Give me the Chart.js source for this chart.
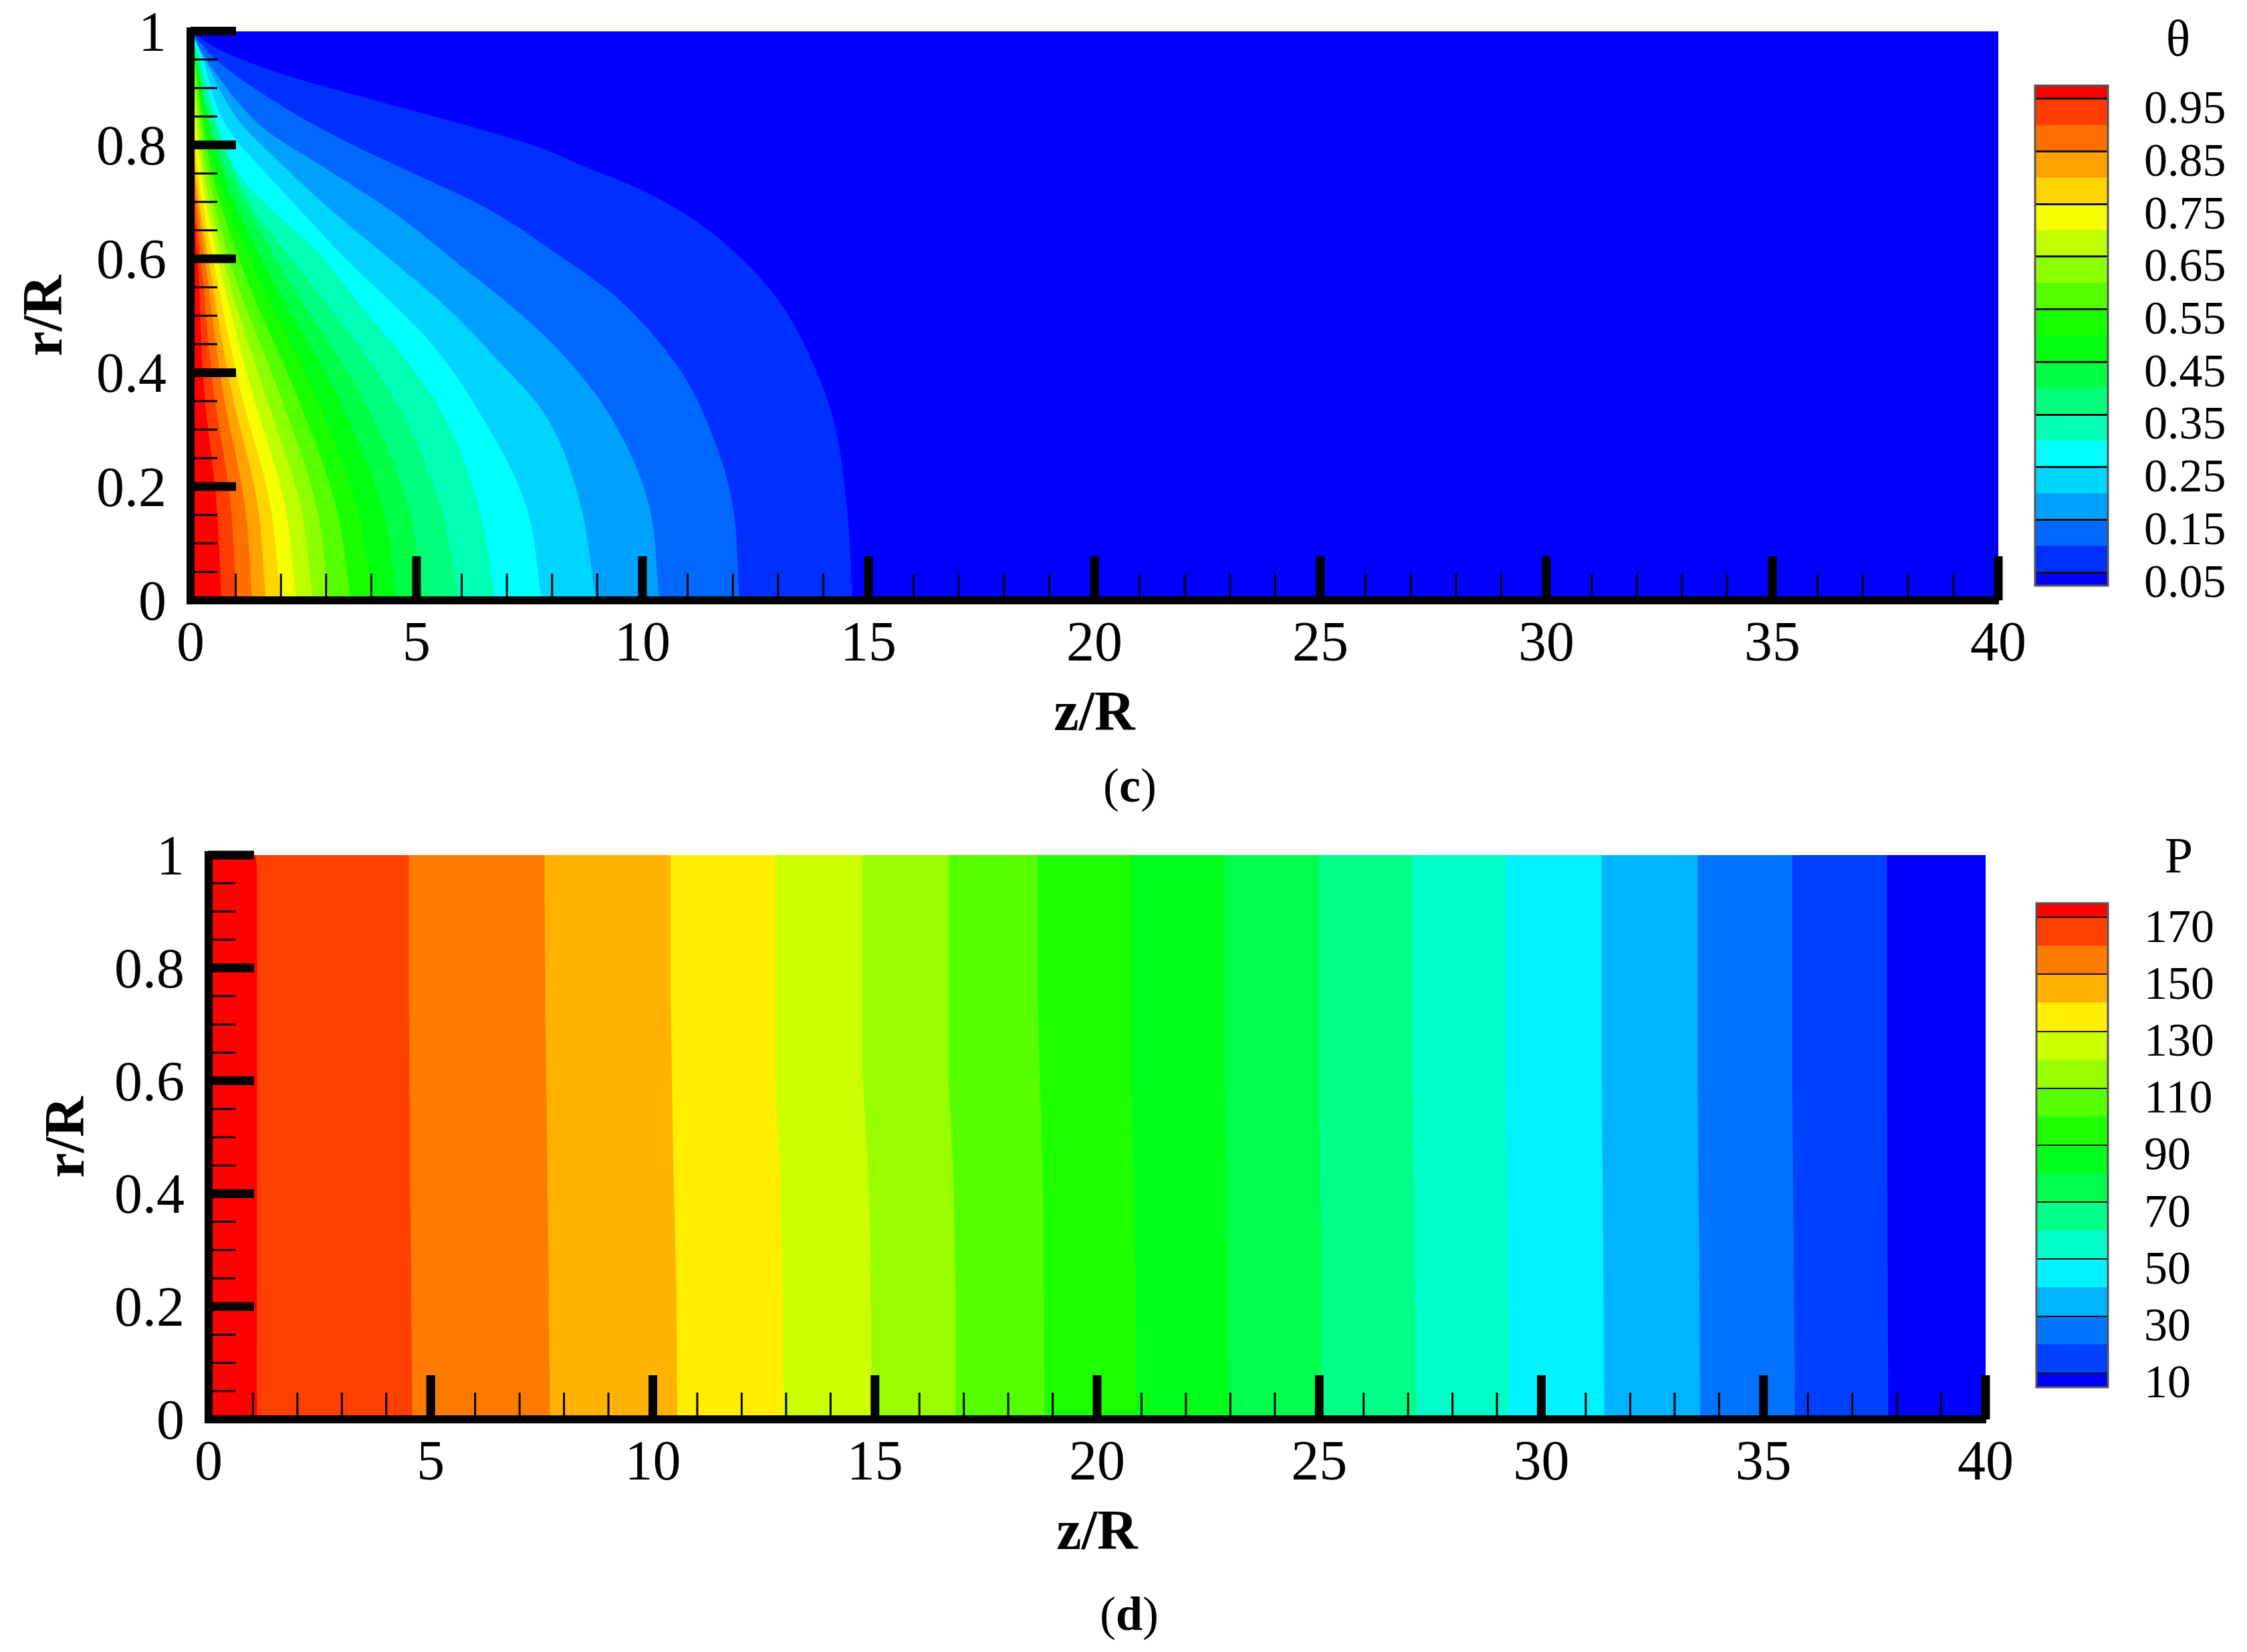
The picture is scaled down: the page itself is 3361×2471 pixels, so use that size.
<!DOCTYPE html>
<html>
<head>
<meta charset="utf-8">
<title>Contours</title>
<script src="https://cdn.jsdelivr.net/npm/chart.js@4"></script>
<style>
    html, body { margin: 0; padding: 0; background: #fff; }
    body { position: relative; width: 3361px; height: 2471px; overflow: hidden; font-family: "Liberation Serif", serif; color: #000; }
    canvas { position: absolute; }
    .label { position: absolute; transform: translate(-50%, -50%); line-height: 1; white-space: nowrap; }
</style>
</head>
<body>
<canvas id="thetaPlot" width="3040" height="1130" style="left:0;top:0"></canvas>
<canvas id="thetaBar" width="341" height="800" style="left:3020px;top:100px"></canvas>
<canvas id="pressurePlot" width="3040" height="1130" style="left:0;top:1230px"></canvas>
<canvas id="pressureBar" width="341" height="800" style="left:3020px;top:1323px"></canvas>
<div class="label" style="left:3258px;top:57px;font-size:76px">θ</div>
<div class="label" style="left:3259px;top:1279px;font-size:76px">P</div>
<div class="label" style="left:1690px;top:1175px;font-size:72px">(<b>c</b>)</div>
<div class="label" style="left:1689px;top:2414px;font-size:72px">(<b>d</b>)</div>
<script>
// Axis ticks
const majorZ = [5, 10, 15, 20, 25, 30, 35, 40];
const minorZ = [1, 2, 3, 4, 6, 7, 8, 9, 11, 12, 13, 14, 16, 17, 18, 19, 21, 22, 23, 24, 26, 27, 28, 29, 31, 32, 33, 34, 36, 37, 38, 39];
const majorR = [0.2, 0.4, 0.6, 0.8, 1];
const minorR = [0.05, 0.1, 0.15, 0.25, 0.3, 0.35, 0.45, 0.5, 0.55, 0.65, 0.7, 0.75, 0.85, 0.9, 0.95];

// Panel (c): legend
const thetaTicks = [0.05, 0.15, 0.25, 0.35, 0.45, 0.55, 0.65, 0.75, 0.85, 0.95];
const thetaEdges = [0.025, 0.05, 0.1, 0.15, 0.2, 0.25, 0.3, 0.35, 0.4, 0.45, 0.5, 0.55, 0.6, 0.65, 0.7, 0.75, 0.8, 0.85, 0.9, 0.95, 0.975];
const thetaColors = ['#0000ff', '#0030ff', '#0068ff', '#00a0ff', '#00d5ff', '#00ffff', '#00ffb5', '#00ff7c', '#00ff45', '#00ff10',
    '#1aff00', '#55ff00', '#8cff00', '#bfff00', '#f5ff00', '#ffd500', '#ffa200', '#ff6f00', '#ff3d00', '#ff0000'];

// Panel (c): contour lines as [z/R, r/R]
const thetaBase = [[0, 1], [40, 1]];
const theta05 = [[0, 1], [0.69, 0.965], [2.21, 0.92], [4.1, 0.878], [5.62, 0.845], [7.64, 0.798], [8.75, 0.761], [10, 0.72], [11.11, 0.67], [12.24, 0.597], [13.09, 0.518], [13.66, 0.436], [14.22, 0.319], [14.51, 0.174], [14.65, 0]];
const theta10 = [[0, 1], [0.62, 0.946], [1.83, 0.878], [3.34, 0.81], [4.8, 0.755], [6.68, 0.683], [8.19, 0.604], [9.51, 0.526], [10.73, 0.416], [11.4, 0.319], [11.98, 0.174], [12.15, 0]];
const theta15 = [[0, 1], [0.46, 0.937], [1.52, 0.836], [2.95, 0.761], [4.6, 0.675], [6.02, 0.585], [7.24, 0.507], [8.28, 0.428], [9.32, 0.319], [10.12, 0.174], [10.38, 0]];
const theta20 = [[0, 1], [0.31, 0.95], [1.0, 0.85], [1.96, 0.77], [3.19, 0.68], [4.51, 0.593], [5.73, 0.51], [6.68, 0.432], [7.9, 0.319], [8.61, 0.174], [8.97, 0]];
const theta25 = [[0, 1], [0.24, 0.958], [0.62, 0.86], [1.0, 0.81], [1.44, 0.77], [2.43, 0.685], [3.47, 0.597], [4.41, 0.526], [5.36, 0.448], [6.3, 0.342], [7.39, 0.174], [7.78, 0]];
const theta30 = [[0, 1], [0.16, 0.962], [0.46, 0.878], [0.75, 0.8], [1.15, 0.74], [1.96, 0.675], [2.9, 0.604], [3.85, 0.51], [4.79, 0.42], [5.64, 0.319], [6.35, 0.174], [6.76, 0]];
const theta35 = [[0, 1], [0.14, 0.962], [0.38, 0.878], [0.92, 0.761], [1.5, 0.675], [2.58, 0.565], [4.38, 0.37], [5.5, 0.174], [5.93, 0]];
const theta40 = [[0, 1], [0.3, 0.878], [0.78, 0.761], [2.15, 0.565], [3.7, 0.37], [4.79, 0.174], [5.14, 0]];
const theta45 = [[0, 1], [0.66, 0.761], [1.8, 0.565], [3.17, 0.37], [4.2, 0.174], [4.57, 0]];
const theta50 = [[0, 1], [0.55, 0.761], [1.52, 0.565], [2.7, 0.37], [3.66, 0.174], [4.04, 0]];
const theta55 = [[0, 1], [0.45, 0.761], [1.24, 0.565], [2.3, 0.37], [3.19, 0.174], [3.55, 0]];
const theta60 = [[0, 1], [0.36, 0.761], [1.0, 0.565], [1.94, 0.37], [2.76, 0.174], [3.07, 0]];
const theta65 = [[0, 1], [0.28, 0.761], [0.84, 0.565], [1.62, 0.37], [2.41, 0.174], [2.71, 0]];
const theta70 = [[0, 1], [0.22, 0.761], [0.71, 0.565], [1.35, 0.37], [2.07, 0.174], [2.34, 0]];
const theta75 = [[0, 1], [0.15, 0.761], [0.59, 0.565], [1.1, 0.37], [1.75, 0.174], [1.99, 0]];
const theta80 = [[0, 1], [0.1, 0.761], [0.47, 0.565], [0.9, 0.37], [1.47, 0.174], [1.67, 0]];
const theta85 = [[0, 1], [0.07, 0.761], [0.38, 0.565], [0.71, 0.37], [1.19, 0.174], [1.37, 0]];
const theta90 = [[0, 1], [0.05, 0.761], [0.27, 0.565], [0.51, 0.37], [0.88, 0.174], [1.01, 0]];
const theta95 = [[0, 1], [0.03, 0.761], [0.18, 0.565], [0.3, 0.37], [0.57, 0.174], [0.69, 0]];
const thetaContours = [thetaBase, theta05, theta10, theta15, theta20, theta25, theta30, theta35, theta40, theta45, theta50,
    theta55, theta60, theta65, theta70, theta75, theta80, theta85, theta90, theta95];

// Panel (d): legend
const pressureTicks = [10, 30, 50, 70, 90, 110, 130, 150, 170];
const pressureEdges = [5, 10, 20, 30, 40, 50, 60, 70, 80, 90, 100, 110, 120, 130, 140, 150, 160, 170, 175];
const pressureColors = ['#0000ff', '#0040ff', '#0073ff', '#00b3ff', '#00f2ff', '#00ffc8', '#00ff88', '#00ff4d', '#00ff1a',
    '#1eff00', '#55ff00', '#99ff00', '#ccff00', '#ffee00', '#ffb300', '#ff7b00', '#ff4000', '#ff0000'];

// Panel (d): contour lines as [z/R, r/R]
const pressureBase = [[0, 1], [40, 1]];
const p10 = [[0, 1], [37.78, 1], [37.78, 0.6], [37.81, 0]];
const p20 = [[0, 1], [35.65, 1], [35.65, 0.6], [35.71, 0]];
const p30 = [[0, 1], [33.52, 1], [33.52, 0.6], [33.56, 0.23], [33.58, 0]];
const p40 = [[0, 1], [31.36, 1], [31.36, 0.6], [31.4, 0.23], [31.42, 0]];
const p50 = [[0, 1], [29.2, 1], [29.2, 0.6], [29.26, 0.23], [29.29, 0]];
const p60 = [[0, 1], [27.1, 1], [27.1, 0.6], [27.16, 0.23], [27.19, 0]];
const p70 = [[0, 1], [24.98, 1], [24.98, 0.6], [25.03, 0.42], [25.05, 0.23], [25.07, 0]];
const p80 = [[0, 1], [22.87, 1], [22.87, 0.6], [22.93, 0.42], [22.95, 0.23], [22.96, 0]];
const p90 = [[0, 1], [20.75, 1], [20.75, 0.6], [20.83, 0.42], [20.87, 0.23], [20.89, 0]];
const p100 = [[0, 1], [18.66, 1], [18.66, 0.75], [18.78, 0.42], [18.8, 0.23], [18.82, 0]];
const p110 = [[0, 1], [16.66, 1], [16.66, 0.6], [16.77, 0.42], [16.81, 0.23], [16.81, 0]];
const p120 = [[0, 1], [14.73, 1], [14.73, 0.6], [14.86, 0.42], [14.91, 0.23], [14.93, 0]];
const p130 = [[0, 1], [12.75, 1], [12.75, 0.6], [12.87, 0.42], [12.92, 0.23], [12.94, 0]];
const p140 = [[0, 1], [10.4, 1], [10.4, 0.75], [10.47, 0.42], [10.53, 0.23], [10.55, 0]];
const p150 = [[0, 1], [7.56, 1], [7.58, 0.75], [7.63, 0.4], [7.69, 0]];
const p160 = [[0, 1], [4.51, 1], [4.51, 0.75], [4.54, 0.4], [4.59, 0]];
const p170 = [[0, 1], [1.06, 1], [1.1, 0.97], [0.99, 0.9], [1.0, 0.6], [1.04, 0.45], [1.06, 0.2], [1.09, 0]];
const pressureContours = [pressureBase, p10, p20, p30, p40, p50, p60, p70, p80, p90, p100, p110, p120, p130, p140, p150, p160, p170];

const serif = "'Liberation Serif', serif";

// Scales must not push the chart area around, its edges are fixed per panel
const fixScaleBox = (scale, key, size) => {
    scale[key] = size;
    scale.paddingLeft = 0;
    scale.paddingRight = 0;
    scale.paddingTop = 0;
    scale.paddingBottom = 0;
};

// Tecplot style inward ticks, placed through the chart's own scales
const inwardTicks = {
    id: 'inwardTicks',
    afterDatasetsDraw(chart) {
        const { ctx, chartArea, scales } = chart;
        const drawX = (values, length, width) => {
            ctx.lineWidth = width;
            values.forEach(v => {
                const x = scales.x.getPixelForValue(v);
                ctx.beginPath();
                ctx.moveTo(x, chartArea.bottom);
                ctx.lineTo(x, chartArea.bottom - length);
                ctx.stroke();
            });
        };
        const drawY = (values, length, width) => {
            ctx.lineWidth = width;
            values.forEach(v => {
                const y = scales.y.getPixelForValue(v);
                ctx.beginPath();
                ctx.moveTo(chartArea.left, y);
                ctx.lineTo(chartArea.left + length, y);
                ctx.stroke();
            });
        };
        ctx.save();
        ctx.strokeStyle = '#000';
        drawX(minorZ, 40, 3);
        drawY(minorR, 40, 3);
        drawX(majorZ, 66, 13);
        drawY(majorR, 68, 13);
        ctx.restore();
    }
};

// Grey frame round the legend bar
const barFrame = {
    id: 'barFrame',
    afterDraw(chart) {
        const { ctx, chartArea } = chart;
        ctx.save();
        ctx.strokeStyle = '#555';
        ctx.lineWidth = 3;
        ctx.strokeRect(chartArea.left, chartArea.top, chartArea.width, chartArea.height);
        ctx.restore();
    }
};

const createContourPlot = (id, contours, colors, area) => {
    // highest level first: Chart.js paints dataset 0 last, so it lands on top
    const datasets = contours.map((line, i) => ({
        data: line.map(p => ({ x: p[0], y: p[1] })),
        showLine: true,
        fill: 'origin',
        backgroundColor: colors[i],
        borderWidth: 0,
        pointRadius: 0,
        tension: i === 0 ? 0 : area.tension
    })).reverse();

    return new Chart(document.getElementById(id), {
        type: 'scatter',
        data: { datasets },
        plugins: [inwardTicks],
        options: {
            responsive: false,
            animation: false,
            layout: { padding: { left: 0, top: area.top, right: area.right, bottom: 0 } },
            plugins: { legend: { display: false }, tooltip: { enabled: false } },
            scales: {
                x: {
                    type: 'linear',
                    min: 0,
                    max: 40,
                    afterFit: (scale) => fixScaleBox(scale, 'height', area.below),
                    grid: { display: false },
                    border: { display: true, color: '#000', width: 12, z: 1 },
                    ticks: {
                        stepSize: 5,
                        autoSkip: false,
                        maxRotation: 0,
                        padding: 10,
                        color: '#000',
                        font: { family: serif, size: 84 }
                    },
                    title: {
                        display: true,
                        text: 'z/R',
                        color: '#000',
                        padding: { top: 0, bottom: area.titleBottom },
                        font: { family: serif, size: 84, weight: 'bold', lineHeight: 1 }
                    }
                },
                y: {
                    type: 'linear',
                    min: 0,
                    max: 1,
                    afterFit: (scale) => fixScaleBox(scale, 'width', area.left),
                    grid: { display: false },
                    border: { display: true, color: '#000', width: 12, z: 1 },
                    ticks: {
                        stepSize: 0.2,
                        autoSkip: false,
                        padding: 28,
                        labelOffset: 7,
                        color: '#000',
                        font: { family: serif, size: 84 },
                        callback: (v) => String(+v.toFixed(1))
                    },
                    title: {
                        display: true,
                        text: 'r/R',
                        color: '#000',
                        padding: { top: area.titleLeft, bottom: 0 },
                        font: { family: serif, size: 84, weight: 'bold', lineHeight: 1 }
                    }
                }
            }
        }
    });
};

const createLegendBar = (id, edges, colors, tickValues, area) => {
    const datasets = colors.map((color, i) => ({
        data: [[edges[i], edges[i + 1]]],
        backgroundColor: color,
        borderWidth: 0,
        grouped: false,
        barPercentage: 1,
        categoryPercentage: 1
    }));

    return new Chart(document.getElementById(id), {
        type: 'bar',
        data: { labels: ['level'], datasets },
        plugins: [barFrame],
        options: {
            responsive: false,
            animation: false,
            layout: { padding: { left: area.left, top: area.top, right: 0, bottom: area.bottom } },
            plugins: { legend: { display: false }, tooltip: { enabled: false } },
            scales: {
                x: { display: false },
                y: {
                    position: 'right',
                    min: edges[0],
                    max: edges[edges.length - 1],
                    afterFit: (scale) => fixScaleBox(scale, 'width', area.axis),
                    afterBuildTicks: (scale) => { scale.ticks = tickValues.map(value => ({ value })); },
                    grid: { color: '#111', lineWidth: area.line, drawTicks: false, z: 1 },
                    border: { display: false },
                    ticks: {
                        autoSkip: false,
                        padding: 54,
                        labelOffset: 18,
                        color: '#000',
                        font: { family: serif, size: 70 },
                        callback: (v) => area.digits ? v.toFixed(area.digits) : String(v)
                    }
                }
            }
        }
    });
};

createContourPlot('thetaPlot', thetaContours, thetaColors, { left: 285, top: 46.5, right: 51, below: 232, titleBottom: 18, titleLeft: 28, tension: 0.35 });
createLegendBar('thetaBar', thetaEdges, thetaColors, thetaTicks, { left: 24, top: 28, bottom: 24, axis: 208, line: 3, digits: 2 });
createContourPlot('pressurePlot', pressureContours, pressureColors, { left: 312, top: 49, right: 70, below: 237, titleBottom: 23, titleLeft: 61, tension: 0 });
createLegendBar('pressureBar', pressureEdges, pressureColors, pressureTicks, { left: 26, top: 28, bottom: 48, axis: 208, line: 2, digits: 0 });
</script>
</body>
</html>
